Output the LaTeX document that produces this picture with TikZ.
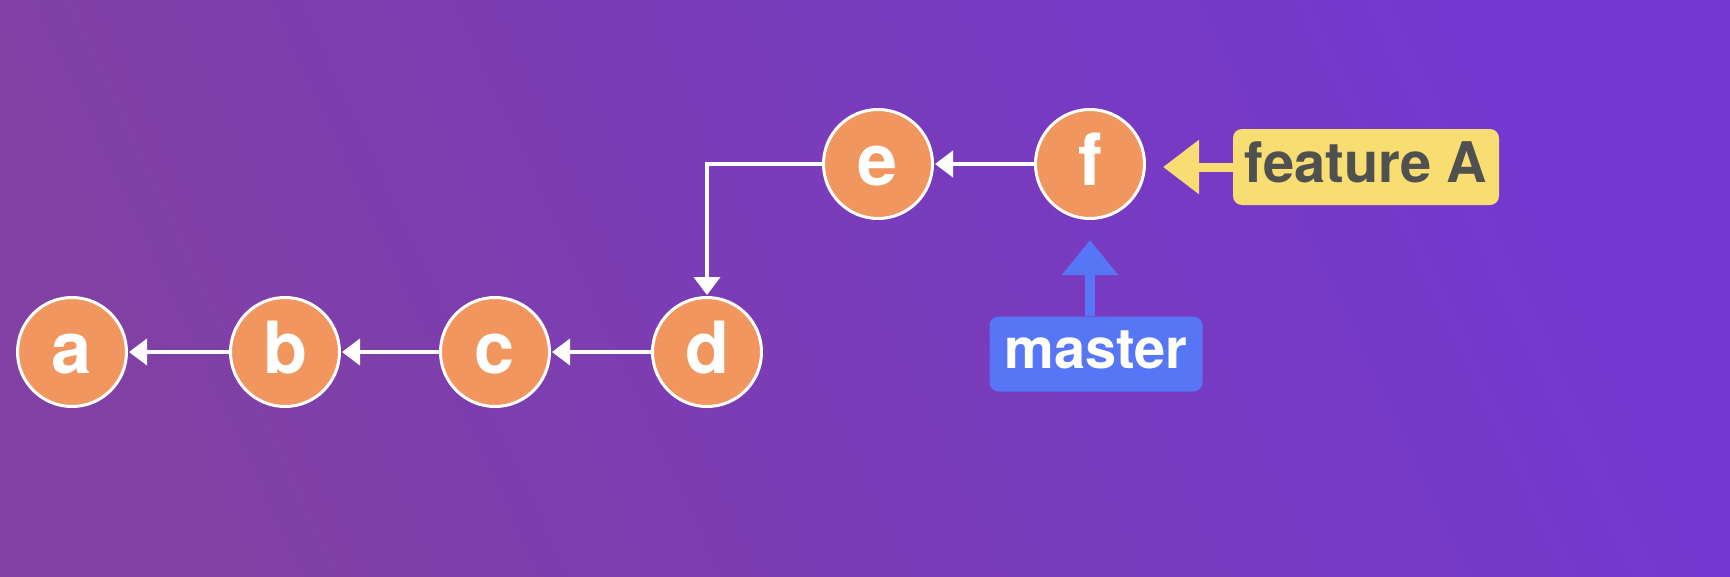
\documentclass[tikz,border=0pt]{standalone}
\usepackage{fontspec}
\setmainfont{TeX Gyre Heros}
\usetikzlibrary{arrows.meta}
\definecolor{bgA}{RGB}{128,64,164}
\definecolor{bgB}{RGB}{115,56,208}
\definecolor{corange}{RGB}{240,150,94}
\definecolor{cyellow}{RGB}{248,221,114}
\definecolor{cgray}{RGB}{80,80,80}
\definecolor{cblue}{RGB}{86,118,246}
\begin{document}
\begin{tikzpicture}[x=1pt,y=-1pt,
  commit/.style={circle, fill=corange, draw=white, line width=3pt,
    minimum size=109pt, inner sep=0pt, text=white,
    font=\fontsize{72}{72}\selectfont\bfseries, text height=42pt, text depth=0pt},
  link/.style={draw=white, line width=4pt, -{Triangle[length=18pt,width=26pt]}, shorten >=1pt},
  tag/.style={rounded corners=9pt, inner sep=0pt, text height=30pt, text depth=0pt,
    font=\fontsize{56}{56}\selectfont\bfseries},
]
\useasboundingbox (0,0) rectangle (1730,576);
\shade[left color=bgA, right color=bgB, shading angle=115] (0,0) rectangle (1730,576);

\node[commit] (a) at (72,352) {a};
\node[commit] (b) at (285,352) {b};
\node[commit] (c) at (495,352) {c};
\node[commit] (d) at (707,352) {d};
\node[commit] (e) at (878,164) {e};
\node[commit] (f) at (1090,164) {f};

\draw[link] (b) -- (a);
\draw[link] (c) -- (b);
\draw[link] (d) -- (c);
\draw[link] (f) -- (e);
\draw[link] (e.west) -| (d.north);

\node[tag, fill=cyellow, text=cgray, minimum width=266pt, minimum height=76pt] (fA) at (1366,167) {feature A};
\coordinate (fAtip) at (1163,167);
\draw[cyellow, line width=9pt, -{Triangle[length=36pt,width=52pt]}] (fA.west) -- (fAtip);

\node[tag, fill=cblue, text=white, minimum width=213pt, minimum height=75pt, text height=28pt] (master) at (1096,354) {master};
\draw[cblue, line width=10pt, -{Triangle[length=35pt,width=54pt]}, shorten >=20pt] (master.north -| f.south) -- (f.south);
\end{tikzpicture}
\end{document}
